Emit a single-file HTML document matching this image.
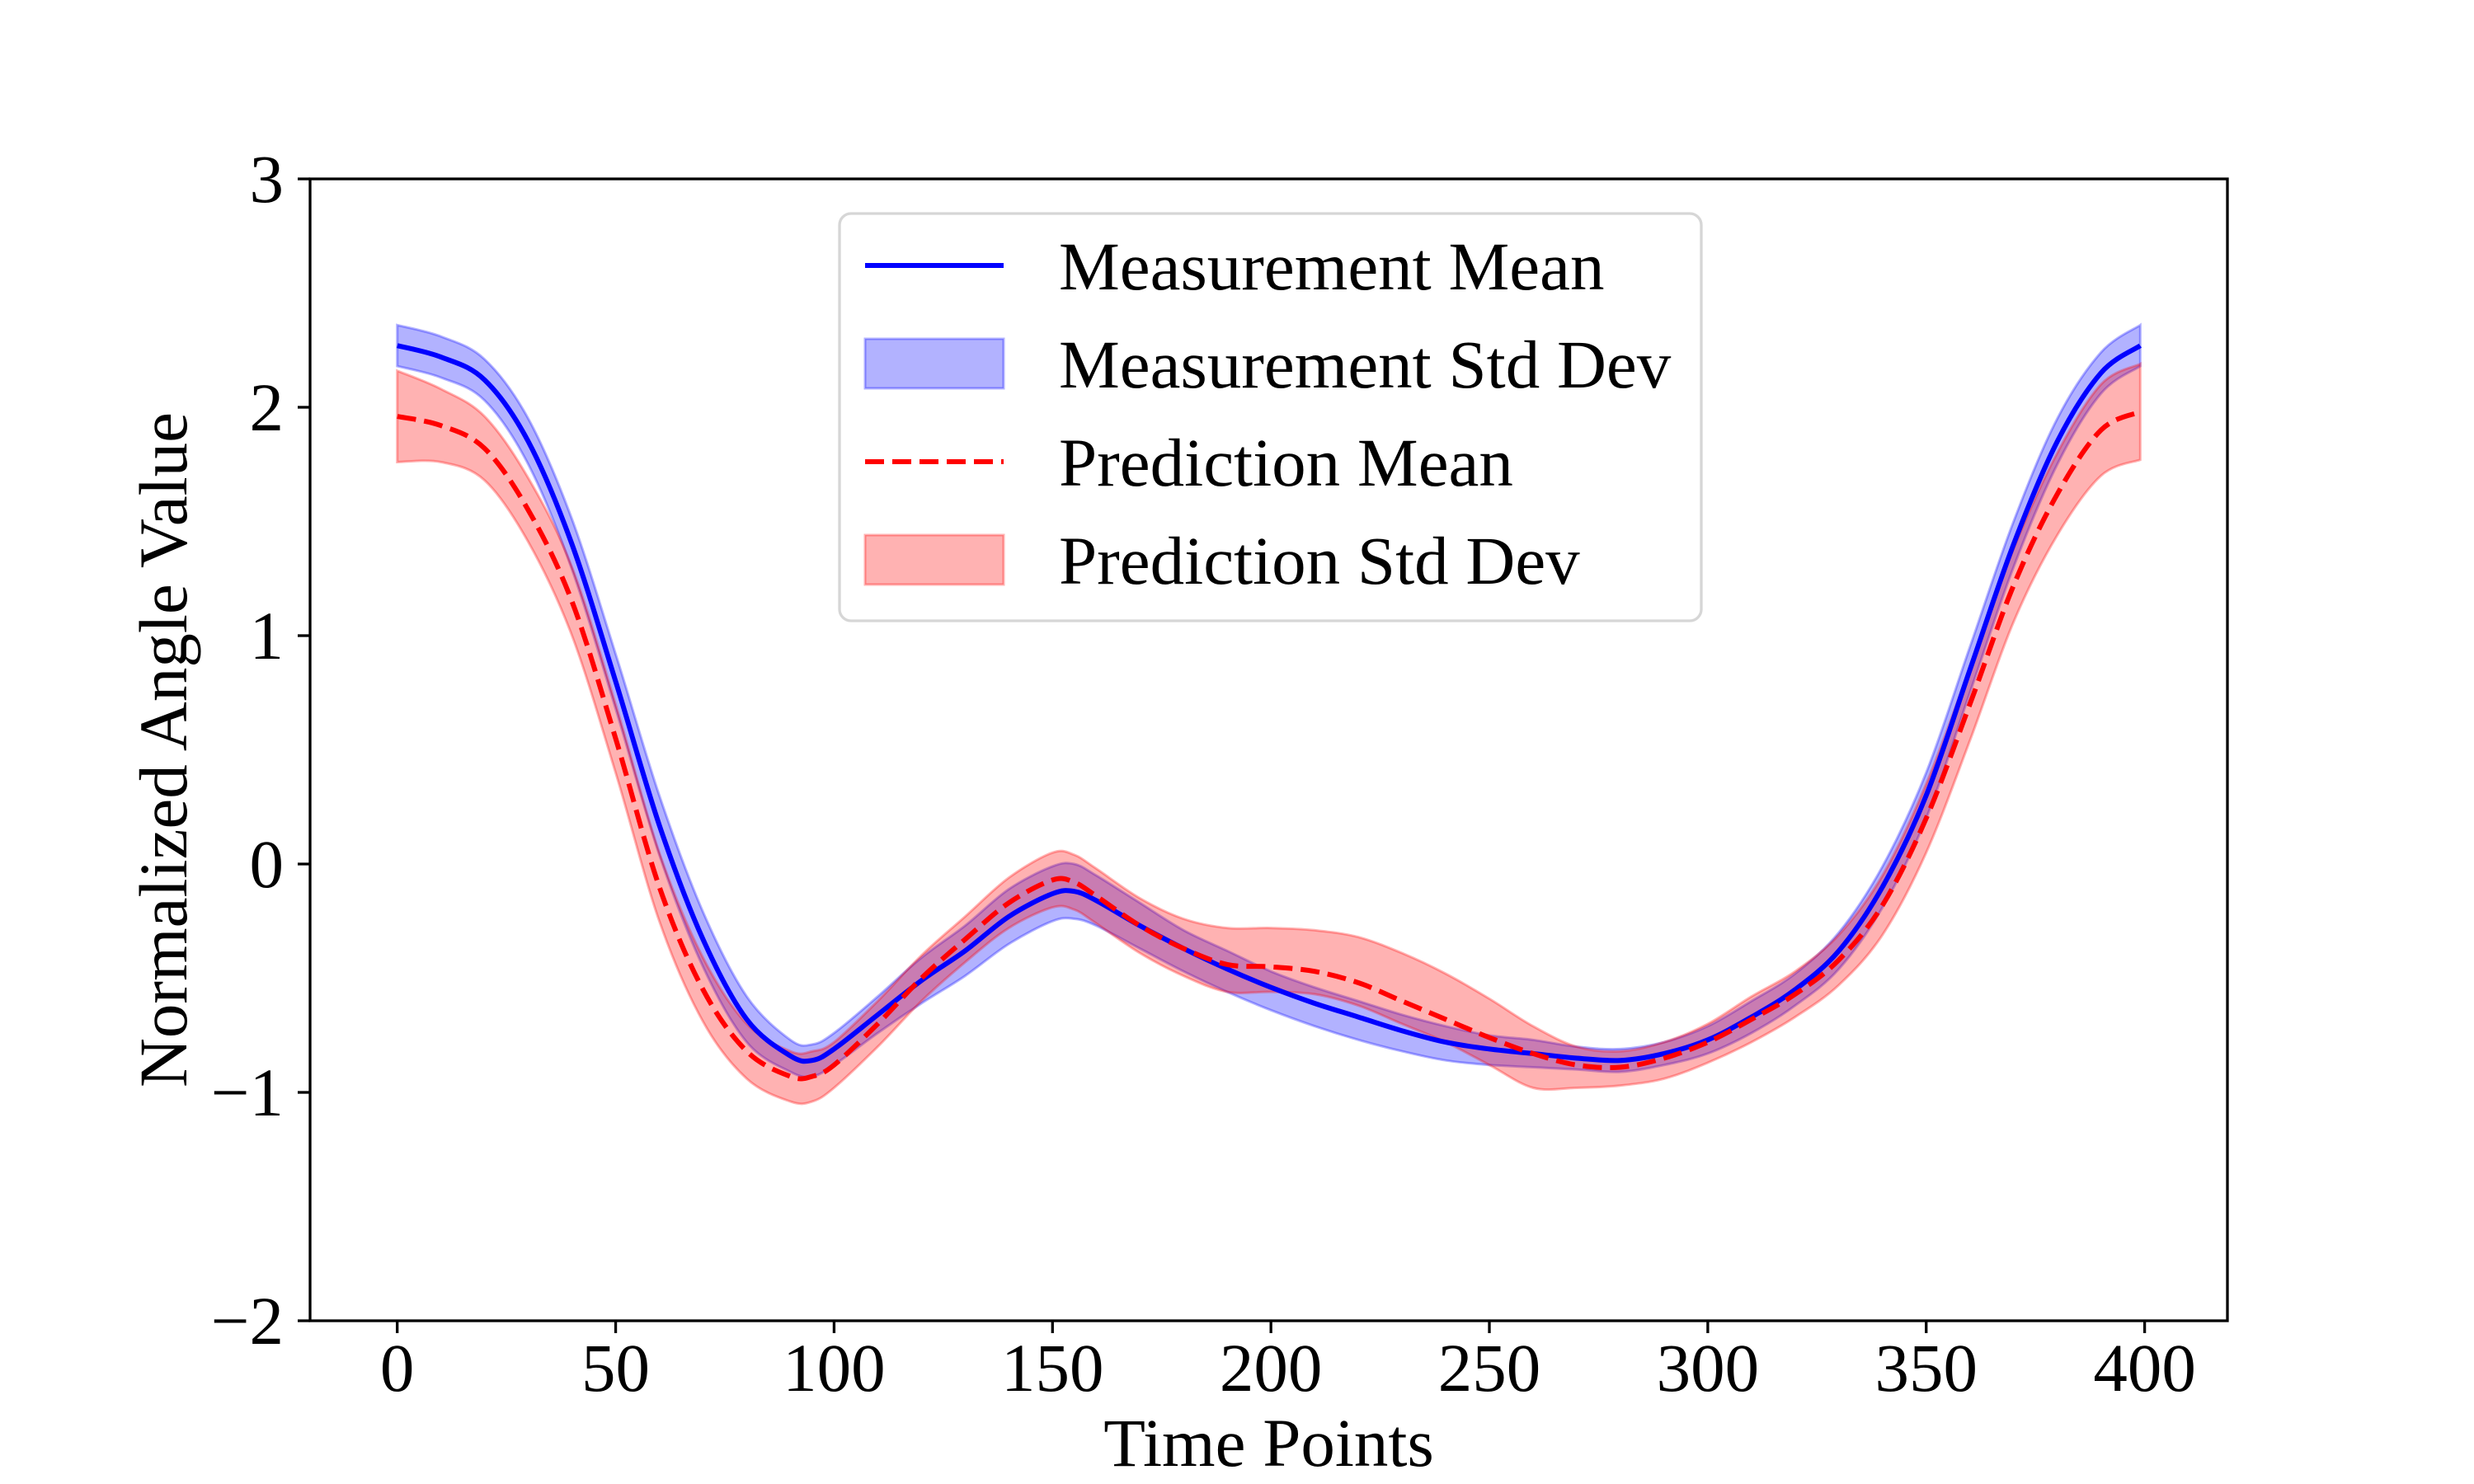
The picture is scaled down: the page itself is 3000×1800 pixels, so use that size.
<!DOCTYPE html>
<html><head><meta charset="utf-8"><style>
html,body{margin:0;padding:0;background:#fff;}
svg{display:block;font-family:"Liberation Serif",serif;}
</style></head><body>
<svg id="chart" width="3000" height="1800" viewBox="0 0 3000 1800" xmlns="http://www.w3.org/2000/svg">
<rect x="0" y="0" width="3000" height="1800" fill="#fff"/>
<g id="plot"></g>
<g id="axes"></g>
<g id="legend"></g>
</svg>
<script>
const xs = [0,10,20,30,40,50,60,70,80,90,95,100,110,120,130,140,150,155,160,170,180,190,200,210,220,230,240,250,260,270,280,290,300,310,320,330,340,350,360,370,380,390,399];
const measMean = [2.27,2.22,2.12,1.85,1.4,0.8,0.17,-0.33,-0.68,-0.84,-0.86,-0.81,-0.66,-0.51,-0.38,-0.23,-0.13,-0.12,-0.16,-0.27,-0.37,-0.46,-0.54,-0.61,-0.67,-0.73,-0.78,-0.81,-0.83,-0.85,-0.86,-0.83,-0.77,-0.67,-0.55,-0.38,-0.1,0.3,0.85,1.4,1.85,2.15,2.27];
const measUp = [0.09,0.09,0.09,0.1,0.11,0.12,0.13,0.12,0.1,0.07,0.07,0.07,0.08,0.1,0.11,0.12,0.12,0.12,0.11,0.1,0.08,0.08,0.07,0.07,0.07,0.07,0.07,0.06,0.06,0.05,0.05,0.05,0.06,0.07,0.07,0.08,0.09,0.1,0.1,0.1,0.1,0.09,0.09];
const measLo = [0.09,0.09,0.09,0.1,0.11,0.12,0.13,0.12,0.1,0.07,0.07,0.07,0.08,0.1,0.11,0.12,0.12,0.12,0.11,0.1,0.1,0.1,0.1,0.1,0.1,0.09,0.08,0.07,0.06,0.05,0.05,0.05,0.06,0.07,0.07,0.08,0.09,0.1,0.1,0.1,0.1,0.09,0.09];
const predMean = [1.96,1.92,1.82,1.55,1.15,0.55,-0.1,-0.55,-0.82,-0.93,-0.93,-0.88,-0.7,-0.5,-0.33,-0.17,-0.07,-0.08,-0.14,-0.27,-0.37,-0.44,-0.45,-0.47,-0.52,-0.6,-0.68,-0.76,-0.83,-0.88,-0.89,-0.85,-0.78,-0.68,-0.57,-0.42,-0.18,0.2,0.7,1.22,1.62,1.9,1.98];
const predUp = [0.2,0.16,0.14,0.14,0.15,0.15,0.15,0.14,0.12,0.11,0.11,0.1,0.1,0.1,0.1,0.11,0.12,0.12,0.12,0.12,0.13,0.16,0.17,0.18,0.2,0.21,0.2,0.17,0.12,0.08,0.07,0.07,0.08,0.1,0.1,0.11,0.13,0.15,0.16,0.16,0.18,0.2,0.21];
const predLo = [0.2,0.16,0.14,0.14,0.15,0.15,0.15,0.14,0.12,0.11,0.11,0.1,0.1,0.1,0.1,0.11,0.12,0.12,0.12,0.12,0.12,0.12,0.11,0.1,0.1,0.1,0.1,0.12,0.15,0.1,0.08,0.09,0.09,0.1,0.1,0.11,0.13,0.15,0.16,0.16,0.18,0.2,0.21];
const xTicks = [0,50,100,150,200,250,300,350,400];
const yTicks = [-2,-1,0,1,2,3];
const yTickLabels = ["\u22122","\u22121","0","1","2","3"];

const L=376,R=2701,T=217,B=1602;
const xMin=-19.95,xMax=418.95,yMin=-2,yMax=3;
const X=v=>L+(v-xMin)/(xMax-xMin)*(R-L);
const Y=v=>B-(v-yMin)/(yMax-yMin)*(B-T);
const NS="http://www.w3.org/2000/svg";
function mk(tag,attrs,parent){const e=document.createElementNS(NS,tag);for(const k in attrs)e.setAttribute(k,attrs[k]);parent.appendChild(e);return e;}
function smooth(pts){
  let d="M"+pts[0][0].toFixed(1)+","+pts[0][1].toFixed(1);
  for(let i=0;i<pts.length-1;i++){
    const p0=pts[Math.max(0,i-1)],p1=pts[i],p2=pts[i+1],p3=pts[Math.min(pts.length-1,i+2)];
    const c1=[p1[0]+(p2[0]-p0[0])/6,p1[1]+(p2[1]-p0[1])/6];
    const c2=[p2[0]-(p3[0]-p1[0])/6,p2[1]-(p3[1]-p1[1])/6];
    d+=" C"+c1[0].toFixed(1)+","+c1[1].toFixed(1)+" "+c2[0].toFixed(1)+","+c2[1].toFixed(1)+" "+p2[0].toFixed(1)+","+p2[1].toFixed(1);
  }
  return d;
}
function bandPath(mean,up,lo){
  const u=xs.map((x,i)=>[X(x),Y(mean[i]+up[i])]);
  const l=xs.map((x,i)=>[X(x),Y(mean[i]-lo[i])]).reverse();
  return smooth(u)+" L"+l[0][0].toFixed(1)+","+l[0][1].toFixed(1)+smooth(l).replace(/^M[^ C]+/,"")+" Z";
}
const plot=document.getElementById('plot');
let el;
el=mk('path',{d:bandPath(measMean,measUp,measLo),fill:'rgba(0,0,255,0.3)',stroke:'rgba(0,0,255,0.3)','stroke-width':3},plot);


el=mk('path',{d:bandPath(predMean,predUp,predLo),fill:'rgba(255,0,0,0.3)',stroke:'rgba(255,0,0,0.3)','stroke-width':3},plot);


el=mk('path',{d:smooth(xs.map((x,i)=>[X(x),Y(measMean[i])])),fill:'none',stroke:'#0000ff','stroke-width':6},plot);


el=mk('path',{d:smooth(xs.map((x,i)=>[X(x),Y(predMean[i])])),fill:'none',stroke:'#ff0000','stroke-width':6,'stroke-dasharray':'23 10'},plot);



const axes=document.getElementById('axes');
el=mk('rect',{x:L,y:T,width:R-L,height:B-T,fill:'none',stroke:'#000','stroke-width':3.3},axes);


xTicks.forEach(v=>{
  el=mk('line',{x1:X(v),x2:X(v),y1:B,y2:B+15,stroke:'#000','stroke-width':3.3},axes);
  
  
  el=mk('text',{x:X(v),y:1687,'font-size':83,'text-anchor':'middle'},axes);
  el.textContent=String(v);
  
  
});
yTicks.forEach((v,i)=>{
  el=mk('line',{x1:L-15,x2:L,y1:Y(v),y2:Y(v),stroke:'#000','stroke-width':3.3},axes);
  
  
  el=mk('text',{x:344,y:Y(v)+28,'font-size':83,'text-anchor':'end'},axes);
  el.textContent=yTickLabels[i];
  
  
});
el=mk('text',{x:(L+R)/2,y:1778,'font-size':83,'text-anchor':'middle'},axes);
el.textContent='Time Points';


el=mk('text',{x:0,y:0,'font-size':83,'text-anchor':'middle',transform:'translate(226,'+((T+B)/2)+') rotate(-90)'},axes);
el.textContent='Normalized Angle Value';



const lg=document.getElementById('legend');
el=mk('rect',{x:1018,y:259,width:1045,height:494,rx:14,fill:'rgba(255,255,255,0.8)',stroke:'#d6d6d6','stroke-width':3.3},lg);


const rows=[['Measurement Mean','line','#0000ff',''],['Measurement Std Dev','patch','rgba(0,0,255,0.3)',''],['Prediction Mean','line','#ff0000','23 10'],['Prediction Std Dev','patch','rgba(255,0,0,0.3)','']];
rows.forEach((r,i)=>{
  const cy=322+i*119;
  if(r[1]==='line'){
    el=mk('line',{x1:1049,x2:1217,y1:cy,y2:cy,stroke:r[2],'stroke-width':6,'stroke-dasharray':r[3]||'none'},lg);
  } else {
    el=mk('rect',{x:1049,y:cy-30,width:168,height:60,fill:r[2],stroke:r[2],'stroke-width':3},lg);
  }
  
  
  el=mk('text',{x:1284,y:cy+29,'font-size':83},lg);
  el.textContent=r[0];
  
  
});
</script>
</body></html>
